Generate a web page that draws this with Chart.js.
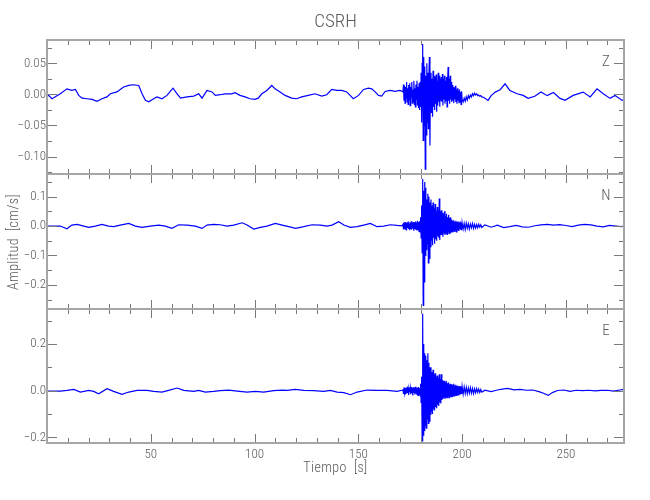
<!DOCTYPE html>
<html>
<head>
<meta charset="utf-8">
<script src="https://cdn.jsdelivr.net/npm/chart.js@4.4.1/dist/chart.umd.min.js"></script>
<style>
html,body{margin:0;padding:0;background:#fff;}
#wrap{position:relative;width:650px;height:500px;background:#fff;}
canvas{position:absolute;left:0;top:0;}
</style>
</head>
<body>
<div id="wrap">
<canvas id="cZ" width="650" height="500"></canvas>
<canvas id="cN" width="650" height="500"></canvas>
<canvas id="cE" width="650" height="500"></canvas>
</div>
<script>
// ---- tick / axis labels ----
const chartTitle = 'CSRH';
const xTitle = 'Tiempo [s]';
const yTitle = 'Amplitud [cm/s]';
const componentLabels = ['Z', 'N', 'E'];

// ---- sample times of the strong-motion part (shared by the 3 components) ----
const burstT = [171.5,171.75,172,172.25,172.5,172.75,173,173.25,173.5,173.75,
174,174.25,174.5,174.75,175,175.25,175.5,175.75,176,176.25,
176.5,176.75,177,177.25,177.5,177.75,178,178.25,178.5,178.75,
179,179.25,179.5,179.75,
180,180.25,180.5,180.75,181,181.25,181.5,181.75,182,182.25,182.5,182.75,183,183.25,183.5,183.75,184,184.25,184.5,184.75,
185,185.25,185.5,185.75,186,186.25,186.5,186.75,187,187.25,187.5,187.75,188,188.25,188.5,188.75,189,189.25,189.5,189.75,
190,190.25,190.5,190.75,191,191.25,191.5,191.75,192,192.25,192.5,192.75,193,193.25,193.5,193.75,194,194.25,194.5,194.75,
195,195.25,195.5,195.75,196,196.25,196.5,196.75,197,197.25,197.5,197.75,198,198.25,198.5,198.75,199,199.25,199.5,199.75,
200,200.5,201,201.5,202,202.5,203,203.5,204,204.5,205,205.5,206,206.5,207,207.5,208,208.5,209,209.5];

// ---- Z component ----
const zPreT = [0,0.8,2.4,6.4,9.6,12,13.7,15.3,16.9,19.3,21.7,24.1,26.5,28.9,30.5,33.7,36.9,39.4,41.8,44.2,45.8,47.4,49,51.4,53,55.4,57.8,60.7,62.7,64.3,67.5,70.7,73.1,74.7,77.1,79.5,81.1,83.5,85.8,89,90.6,93,95.4,97.8,100.2,101.8,103.5,105.9,108.3,109.9,112.3,114.7,117.9,120.3,122.7,125.9,129.1,132.4,134.8,137.2,139.6,142,144.4,147.6,150.1,152.5,154.9,156.5,158.1,159.7,161.3,162.9,165.3,167.7,170.1,171];
const zPreV = [-0.002,-0.0016,-0.007,0.001,0.009,0.0064,0.008,-0.0016,-0.006,-0.007,-0.008,-0.011,-0.007,-0.004,0.001,0.004,0.012,0.0144,0.0155,0.0144,0.001,-0.0096,-0.012,-0.007,-0.004,-0.007,-0.0016,0.010,0.001,-0.006,-0.004,-0.0027,0.001,-0.006,0.0064,0.004,-0.0016,-0.0005,0.001,0.001,0.0027,-0.0016,-0.004,-0.007,-0.008,-0.006,0.001,0.0064,0.0144,0.009,0.004,-0.0016,-0.006,-0.007,-0.004,-0.0016,0.001,-0.0027,-0.0005,0.008,0.0064,0.0064,0.004,-0.007,-0.0016,0.008,0.010,0.009,0.004,-0.0016,-0.0027,0.0048,0.0064,0.0048,0.0064,0.005];
const zBurstV = [0.004,0.016,-0.01,0.014,-0.014,0.012,-0.006,0.02,-0.012,0.01,
-0.016,0.015,-0.008,0.018,-0.018,0.012,-0.004,0.02,-0.014,0.008,
-0.012,0.022,-0.016,0.01,-0.02,0.016,-0.008,0.022,-0.018,0.012,
-0.022,0.018,-0.025,0.02,
-0.02,0.035,-0.045,0.05,0.081,-0.074,0.06,-0.05,0.045,-0.12,0.03,-0.065,0.05,-0.045,0.035,-0.055,0.03,0.06,-0.082,0.025,
0.035,-0.03,0.025,-0.036,0.038,-0.02,0.03,-0.025,0.028,-0.015,0.032,-0.028,0.022,-0.018,0.035,-0.012,0.03,-0.02,0.025,-0.01,
0.028,-0.012,0.033,-0.018,0.025,-0.008,0.03,-0.015,0.022,-0.01,0.028,-0.02,0.018,0.044,-0.01,0.025,-0.015,0.03,-0.008,0.02,
-0.012,0.015,-0.01,0.012,-0.014,0.01,-0.008,0.014,-0.012,0.008,-0.015,0.01,-0.01,0.006,-0.014,0.008,-0.012,0.004,-0.016,0.005,
-0.008,-0.012,-0.006,-0.011,-0.004,-0.009,-0.002,-0.006,-0.001,-0.004,0.001,-0.002,0.002,-0.001,0.001,-0.002,-0.001,-0.003,-0.002,-0.004];
const zPostT = [210.5,212.5,214,216,218.3,220.7,223,226.5,229.4,231.8,235,238,241,244,247.2,249.6,253.5,258.3,261.7,265,268,271.3,273.7,277.1,278];
const zPostV = [-0.005,-0.0096,-0.002,0.0037,0.0075,0.017,0.0064,0.001,-0.0016,-0.0064,-0.003,0.004,-0.002,0.003,-0.0064,-0.0096,-0.0016,0.0037,-0.004,0.009,0.001,-0.0064,-0.0016,-0.0096,-0.008];

// ---- N component ----
const nPreT = [0,6.4,9.6,12,14.5,17.7,20.1,23.3,26.5,29.7,32.1,35.3,39.4,42.6,45.8,49.8,53.8,57,60.2,63.5,67.5,71.5,74.7,77.1,80.3,83.5,86.7,90,94,96.4,99.6,102.8,106,110,113.3,116.5,119.7,123.7,127.7,131.7,134.9,137.3,140.6,143,146.2,149.4,152.6,155.8,159,162.2,165.5,168.7,171];
const nPreV = [0,0,-0.009,0.0034,0.0056,0,-0.0045,0,0.0056,0,-0.0022,0.0034,0.009,0,-0.0045,0,0.0034,0,-0.0079,0.0045,0.0034,0,-0.0079,0.0034,0.0056,0.0045,0,0.0034,0.0112,0.0034,-0.01,-0.0045,0,0.009,0.0034,-0.0022,-0.0079,-0.0022,0.0045,0.0034,0,0.0034,0.0146,0.0034,-0.0045,-0.0022,0.0034,0.009,-0.0022,0,0.0045,0.0022,0.001];
const nBurstV = [0.006,-0.01,0.012,-0.008,0.014,-0.012,0.01,-0.015,0.012,-0.006,
0.015,-0.01,0.008,-0.014,0.012,-0.01,0.016,-0.012,0.01,-0.008,
0.014,-0.016,0.012,-0.01,0.015,-0.012,0.01,-0.015,0.018,-0.012,
0.014,-0.018,0.016,-0.02,
0.03,-0.04,0.07,-0.09,0.16,-0.27,0.12,-0.19,0.15,-0.1,0.13,-0.08,0.09,-0.06,0.11,-0.125,0.1,-0.11,0.08,-0.07,
0.09,-0.05,0.07,-0.065,0.08,-0.04,0.06,-0.06,0.075,-0.045,0.05,-0.05,0.065,-0.035,0.055,-0.04,0.094,-0.047,0.05,-0.03,
0.054,-0.03,0.045,-0.036,0.04,-0.025,0.05,-0.03,0.035,-0.024,0.042,-0.028,0.03,-0.02,0.038,-0.025,0.028,-0.022,0.03,-0.018,
0.022,-0.02,0.018,-0.016,0.02,-0.018,0.015,-0.014,0.018,-0.02,0.014,-0.012,0.016,-0.015,0.012,-0.01,0.015,-0.012,0.01,-0.014,
0.012,-0.01,0.009,-0.012,0.01,-0.008,0.008,-0.01,0.007,-0.006,0.009,-0.008,0.006,-0.007,0.005,-0.006,0.006,-0.004,0.004,-0.005];
const nPostT = [211,214,217,220,223,226,229,232,235,238,241,244,247,250,253,256,259,262,265,268,271,274,277,278];
const nPostV = [0.004,-0.004,0.003,-0.005,-0.002,0.002,-0.003,-0.004,0.001,0.004,0.006,0.003,0.005,0.002,-0.002,0.003,0.006,0.004,0,-0.003,0.002,0,-0.002,0.001];

// ---- E component ----
const ePreT = [0,6.4,9.6,12.9,16.1,20.1,22.5,24.9,28.9,32.1,36.1,39.4,43.4,48.2,51.4,55.4,58.6,62.7,65.9,70.7,73.1,76.3,80.3,83.5,87.6,91.6,96.4,100.4,104.4,109.2,113.3,115.7,119.7,123.7,128.5,133.3,136.5,139.8,143,146.2,149.4,154.2,159,163.9,168.7,171];
const ePreV = [-0.0014,-0.0014,0.0014,0.0057,-0.0057,0.0014,-0.0029,-0.0129,0.0086,-0.0029,-0.0158,-0.0057,0.0014,0.0014,-0.0029,-0.0057,0.0014,0.0115,0.0014,-0.0029,0.0014,-0.0057,-0.0029,0,0.0029,-0.0014,-0.0057,-0.0029,-0.0057,0,0.0029,0.0014,0.0057,0.0014,0,-0.0029,0.0014,-0.0057,-0.0086,-0.0172,-0.0057,0.0029,0.0014,0.0014,-0.0029,0.002];
const eBurstV = [0.004,-0.012,0.015,-0.008,0.012,-0.016,0.01,-0.012,0.017,-0.01,
0.008,-0.018,0.014,-0.006,0.012,-0.015,0.016,-0.01,0.01,-0.02,
0.015,-0.008,0.012,-0.016,0.017,-0.012,0.01,-0.018,0.014,-0.02,
0.016,-0.015,0.012,-0.022,
0.03,-0.05,0.06,-0.215,0.33,-0.19,0.2,-0.17,0.16,-0.15,0.15,-0.16,0.13,-0.12,0.16,-0.14,0.12,-0.13,0.1,-0.1,
0.1,-0.09,0.08,-0.1,0.09,-0.08,0.07,-0.085,0.075,-0.07,0.06,-0.075,0.065,-0.06,0.055,-0.065,0.07,-0.05,0.05,-0.055,
0.07,-0.04,0.045,-0.035,0.04,-0.03,0.043,-0.035,0.035,-0.028,0.04,-0.03,0.032,-0.025,0.035,-0.03,0.028,-0.022,0.03,-0.025,
0.028,-0.024,0.025,-0.02,0.03,-0.022,0.022,-0.018,0.025,-0.02,0.02,-0.016,0.022,-0.018,0.018,-0.015,0.02,-0.016,0.016,-0.014,
0.018,-0.015,0.016,-0.012,0.014,-0.013,0.012,-0.01,0.013,-0.011,0.01,-0.012,0.008,-0.009,0.009,-0.007,0.007,-0.008,0.005,-0.006];
const ePostT = [211,214,217,220,222,225,228,231,234,237,239.5,241.5,243.5,246,249,252,255,258,261,264,267,270,273,276,278];
const ePostV = [0.002,-0.004,0.003,0.008,0.01,0.004,0.006,0.002,0.003,-0.004,-0.012,-0.02,-0.008,0.001,0.003,-0.003,0.002,0,0.002,-0.001,0.001,0.002,-0.002,0.003,0.006];

// ---- assemble ----
const zTimes = zPreT.concat(burstT, zPostT), zValues = zPreV.concat(zBurstV, zPostV);
const nTimes = nPreT.concat(burstT, nPostT), nValues = nPreV.concat(nBurstV, nPostV);
const eTimes = ePreT.concat(burstT, ePostT), eValues = ePreV.concat(eBurstV, ePostV);
[[zTimes,zValues,'Z'],[nTimes,nValues,'N'],[eTimes,eValues,'E']].forEach(([t,v,n])=>{
  if (t.length !== v.length) throw new Error('length mismatch '+n+': '+t.length+' vs '+v.length);
});

const FONT = "'Roboto Condensed','DejaVu Sans Condensed','Liberation Sans',sans-serif";
const TXT = '#5a5a5a';
const X_MIN = 0, X_MAX = 278;

const panels = [
  {canvas:'cZ', label:componentLabels[0], times:zTimes, values:zValues, yMin:-0.128, yMax:0.0875, major:0.05, minor:0.025, dec:2, top:40,  bottom:174, xLabels:false, first:true},
  {canvas:'cN', label:componentLabels[1], times:nTimes, values:nValues, yMin:-0.282, yMax:0.177,  major:0.1,  minor:0.05,  dec:1, top:174, bottom:309, xLabels:false},
  {canvas:'cE', label:componentLabels[2], times:eTimes, values:eValues, yMin:-0.224, yMax:0.35,   major:0.2,  minor:0.1,   dec:1, top:309, bottom:443, xLabels:true}
];

function fmt(v, dec){
  if (Math.abs(v) < 1e-9) return (0).toFixed(dec);
  return v.toFixed(dec).replace('-', '\u2212');
}

function framePlugin(p){
  return {
    id:'frame_'+p.label,
    afterDraw(chart){
      const ctx = chart.ctx, a = chart.chartArea, xs = chart.scales.x, ys = chart.scales.y;
      ctx.save();
      ctx.strokeStyle = '#7a7a7a';
      ctx.lineWidth = 1;
      ctx.beginPath();
      for (let t = 10; t < X_MAX; t += 10){
        const px = Math.round(xs.getPixelForValue(t)) + 0.5;
        const len = (t % 50 === 0) ? 9 : 5;
        ctx.moveTo(px, a.top); ctx.lineTo(px, a.top + len);
        ctx.moveTo(px, a.bottom); ctx.lineTo(px, a.bottom - len);
      }
      const k0 = Math.ceil(p.yMin / p.minor - 1e-9), k1 = Math.floor(p.yMax / p.minor + 1e-9);
      const ratio = Math.round(p.major / p.minor);
      for (let k = k0; k <= k1; k++){
        const v = k * p.minor;
        const py = Math.round(ys.getPixelForValue(v)) + 0.5;
        const len = (k % ratio === 0) ? 10 : 5;
        ctx.moveTo(a.left, py); ctx.lineTo(a.left + len, py);
        ctx.moveTo(a.right, py); ctx.lineTo(a.right - len, py);
      }
      ctx.stroke();
      ctx.strokeStyle = '#a6a6a6';
      ctx.lineWidth = 2;
      ctx.strokeRect(a.left, a.top, a.right - a.left, a.bottom - a.top);
      ctx.fillStyle = TXT;
      ctx.font = '300 15px ' + FONT;
      ctx.textAlign = 'center';
      ctx.textBaseline = 'middle';
      ctx.fillText(p.label, 606, a.top + 22);
      if (p.first){
        ctx.font = '300 19px ' + FONT;
        ctx.fillText(chartTitle, (a.left + a.right) / 2, 22);
        ctx.save();
        ctx.translate(14, 242);
        ctx.rotate(-Math.PI / 2);
        ctx.font = '300 14px ' + FONT;
        ctx.letterSpacing = '0.4px';
        ctx.fillText(yTitle.replace(' ', '  '), 0, 0);
        ctx.restore();
      }
      if (p.xLabels){
        ctx.font = '300 14px ' + FONT;
        ctx.letterSpacing = '0.4px';
        ctx.fillText(xTitle.replace(' ', '  '), (a.left + a.right) / 2, 468);
      }
      ctx.restore();
    }
  };
}

panels.forEach(p => {
  const pts = p.times.map((t, i) => ({x: t, y: p.values[i]}));
  new Chart(document.getElementById(p.canvas), {
    type: 'line',
    data: {datasets: [{data: pts, borderColor: '#0000ff', borderWidth: 1.2, pointRadius: 0, tension: 0, fill: false}]},
    options: {
      responsive: false, animation: false, events: [],
      layout: {padding: {left: 0, right: 26, top: p.top, bottom: 0}},
      plugins: {legend: {display: false}, tooltip: {enabled: false}, title: {display: false}},
      scales: {
        x: {
          type: 'linear', min: X_MIN, max: X_MAX,
          grid: {display: false, drawTicks: false}, border: {display: false},
          ticks: {display: p.xLabels, stepSize: 50, includeBounds: false, autoSkip: false, maxRotation: 0, padding: 4,
                  color: TXT, font: {family: FONT, size: 13, weight: '300'},
                  callback: v => (v === 0 ? '' : String(v))},
          afterFit: s => { s.height = 500 - p.bottom; }
        },
        y: {
          type: 'linear', min: p.yMin, max: p.yMax,
          grid: {display: false, drawTicks: false}, border: {display: false},
          ticks: {stepSize: p.major, includeBounds: false, autoSkip: false, padding: 1,
                  color: TXT, font: {family: FONT, size: 13, weight: '300'},
                  callback: v => fmt(v, p.dec)},
          afterFit: s => { s.width = 47; }
        }
      }
    },
    plugins: [framePlugin(p)]
  });
});
</script>
</body>
</html>
